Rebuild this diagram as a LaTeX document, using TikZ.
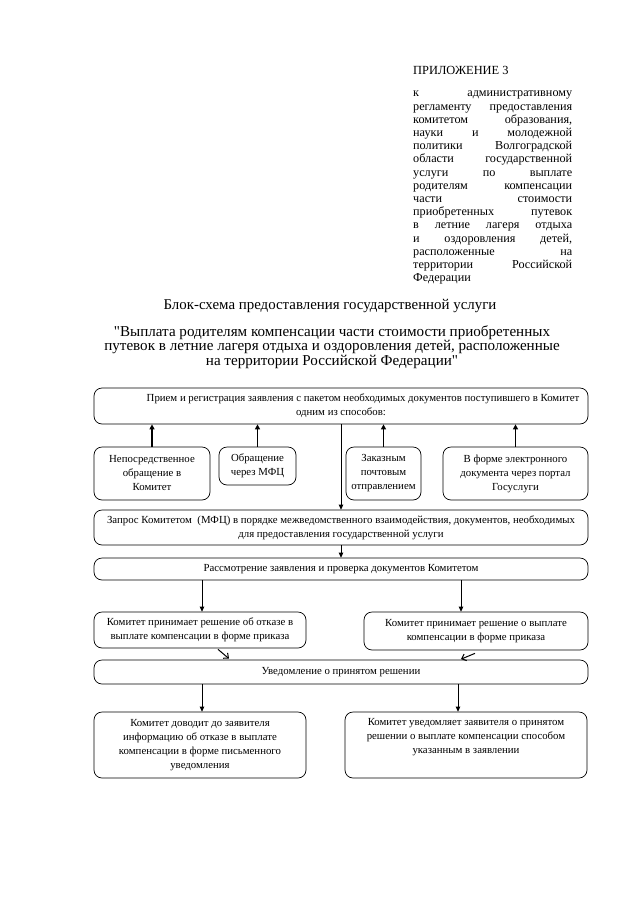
\documentclass[tikz,border=0pt]{standalone}
\usepackage{fontspec}
\setmainfont{Liberation Serif}
\usetikzlibrary{arrows.meta}
\begin{document}
\begin{tikzpicture}[x=1pt,y=-1pt,
  box/.style={draw, rounded corners=8pt, line width=0.7pt, align=center, inner sep=1pt,
    font=\fontsize{10.8}{14}\selectfont},
  thickarr/.style={line width=1.8pt, -{Triangle[length=5pt,width=5pt]}},
  thinarr/.style={line width=0.8pt, -{Triangle[length=5pt,width=4.5pt]}},
  diagarr/.style={line width=1pt, -{Straight Barb[length=4pt,width=7pt]}},
  plain/.style={inner sep=0pt}]
\useasboundingbox (0,0) rectangle (640,905);

% header block
\node[plain, anchor=west, font=\fontsize{12.4}{13}\selectfont] (app) at (413,70) {ПРИЛОЖЕНИЕ 3};
\node[plain, anchor=north west, align=left, font=\fontsize{12.2}{13.2}\selectfont] (reg) at (413,91) {%
\makebox[159pt][s]{к административному}\\
\makebox[159pt][s]{регламенту предоставления}\\
\makebox[159pt][s]{комитетом образования,}\\
\makebox[159pt][s]{науки и молодежной}\\
\makebox[159pt][s]{политики Волгоградской}\\
\makebox[159pt][s]{области государственной}\\
\makebox[159pt][s]{услуги по выплате}\\
\makebox[159pt][s]{родителям компенсации}\\
\makebox[159pt][s]{части стоимости}\\
\makebox[159pt][s]{приобретенных путевок}\\
\makebox[159pt][s]{в летние лагеря отдыха}\\
\makebox[159pt][s]{и оздоровления детей,}\\
\makebox[159pt][s]{расположенные на}\\
\makebox[159pt][s]{территории Российской}\\
Федерации};

% titles
\node[plain, font=\fontsize{14.9}{15}\selectfont] (t1) at (330,306) {Блок-схема предоставления государственной услуги};
\node[plain, align=center, font=\fontsize{15.1}{12.8}\selectfont] (t2) at (332,347) {\textquotedbl Выплата родителям компенсации части стоимости приобретенных\\
путевок в летние лагеря отдыха и оздоровления детей, расположенные\\
на территории Российской Федерации\textquotedbl};

% boxes
\node[box, minimum width=494pt, minimum height=36pt] (b1) at (341,406)
  {\hspace*{44pt}Прием и регистрация заявления с пакетом необходимых документов поступившего в Комитет\\одним из способов:};
\node[box, minimum width=116pt, minimum height=53pt] (a) at (152,473.5)
  {Непосредственное\\обращение в\\Комитет};
\node[box, minimum width=77pt, minimum height=38pt] (b) at (257.5,466)
  {Обращение\\через МФЦ};
\node[box, minimum width=75pt, minimum height=53pt] (c) at (383.5,473.5)
  {Заказным\\почтовым\\отправлением};
\node[box, minimum width=145pt, minimum height=53pt] (d) at (515.5,473.5)
  {В форме электронного\\документа через портал\\Госуслуги};
\node[box, minimum width=494pt, minimum height=35pt] (zap) at (341,527.5)
  {Запрос Комитетом \ (МФЦ) в порядке межведомственного взаимодействия, документов, необходимых\\для предоставления государственной услуги};
\node[box, minimum width=494pt, minimum height=22pt] (ras) at (341,569)
  {Рассмотрение заявления и проверка документов Комитетом};
\node[box, minimum width=212pt, minimum height=36pt] (l1) at (200,630)
  {Комитет принимает решение об отказе в\\выплате компенсации в форме приказа};
\node[box, minimum width=224pt, minimum height=38pt] (r1) at (476,631)
  {Комитет принимает решение о выплате\\компенсации в форме приказа};
\node[box, minimum width=494pt, minimum height=24pt] (uv) at (341,672)
  {Уведомление о принятом решении};
\node[box, minimum width=212pt, minimum height=66pt] (l2) at (200,745)
  {Комитет доводит до заявителя\\информацию об отказе в выплате\\компенсации в форме письменного\\уведомления};
\node[box, minimum width=242pt, minimum height=66pt] (r2) at (466,745)
  {Комитет уведомляет заявителя о принятом\\решении о выплате компенсации способом\\указанным в заявлении\\\strut};

% connectors
\draw[thickarr] (a.north) -- (a.north |- b1.south);
\draw[thickarr] (b.north) -- (b.north |- b1.south);
\draw[thickarr] (c.north) -- (c.north |- b1.south);
\draw[thickarr] (d.north) -- (d.north |- b1.south);
\draw[thinarr] (b1.south) -- (zap.north);
\draw[thinarr] (zap.south) -- (ras.north);
\path (l1.north) ++(2,0) coordinate (l1in);
\path (r1.north) ++(-15,0) coordinate (r1in);
\draw[thinarr] (l1in |- ras.south) -- (l1in);
\draw[thinarr] (r1in |- ras.south) -- (r1in);
\path (l1.south) ++(18,1) coordinate (ls);
\path (uv.north) ++(-112,-1) coordinate (le);
\path (r1.south) ++(-1,3) coordinate (rs);
\path (uv.north) ++(120,-0.5) coordinate (re);
\draw[diagarr] (ls) -- (le);
\draw[diagarr] (rs) -- (re);
\path (l2.north) ++(2,0) coordinate (l2in);
\path (r2.north) ++(-8,0) coordinate (r2in);
\draw[thinarr] (l2in |- uv.south) -- (l2in);
\draw[thinarr] (r2in |- uv.south) -- (r2in);
\end{tikzpicture}
\end{document}
